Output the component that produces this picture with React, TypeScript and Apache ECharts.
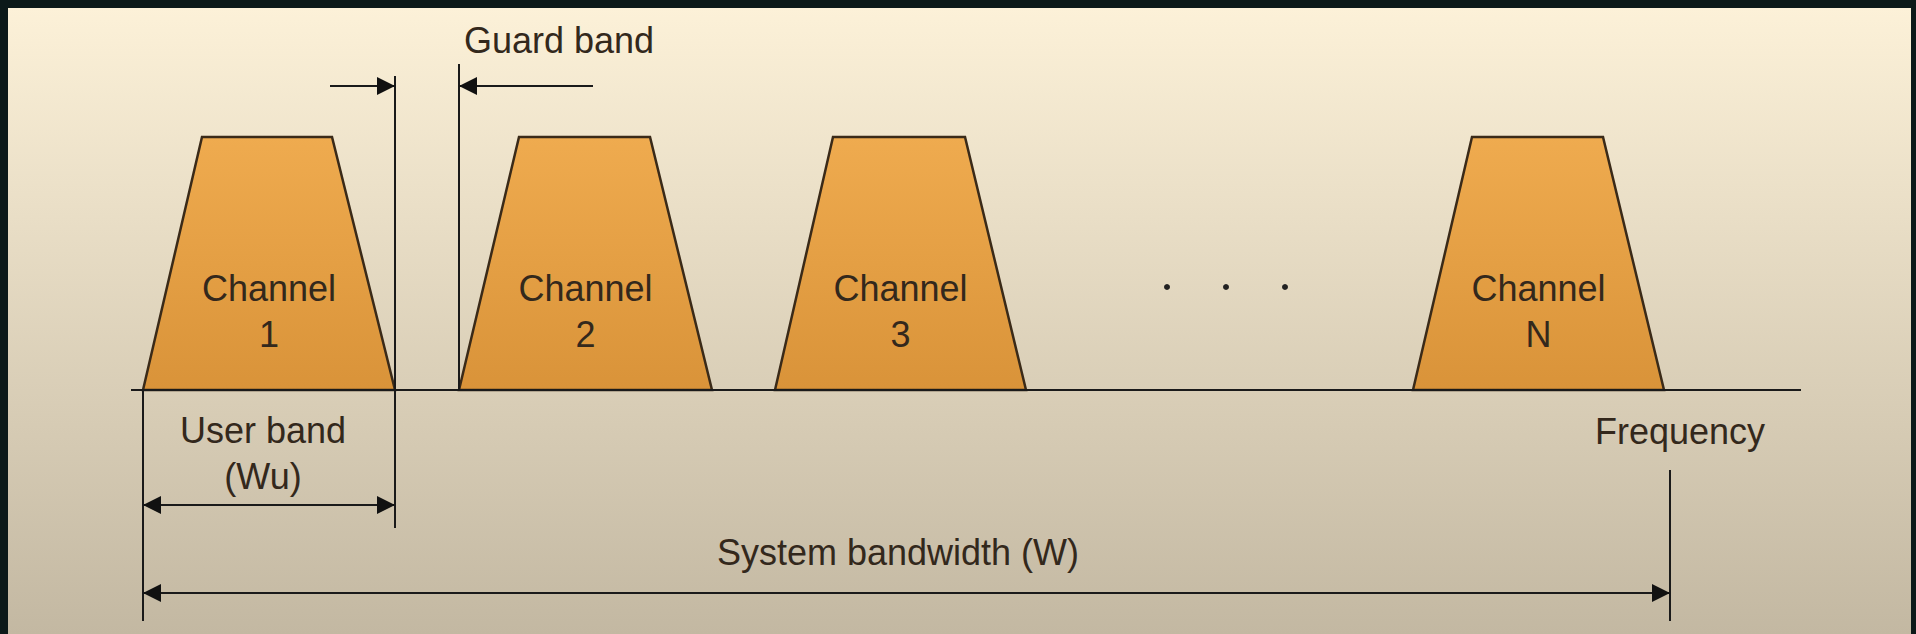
import { useEffect, useRef } from 'react'
import * as echarts from 'echarts'

// diagram units: x = frequency position, y = height row (axis inverted)
const channelNames = ['Channel\n1', 'Channel\n2', 'Channel\n3', 'Channel\nN']
const channelBottomLeft = [143, 459, 775, 1413]
const channelBottomRight = [395, 712, 1026, 1664]
const channelTopLeft = [202, 519, 833, 1472]
const channelTopRight = [332, 650, 965, 1603]
const baseY = 390
const topY = 137
const axisStart = 131
const axisEnd = 1801
const dotsX = [1167, 1226, 1285]
const dotsY = 287

const ink = '#33281c'

export default function App() {
  const ref = useRef<HTMLDivElement>(null)

  useEffect(() => {
    document.body.style.margin = '0'
    if (!ref.current) return
    const chart = echarts.init(ref.current, null, { renderer: 'svg' })

    const arrowHead = (api: any, x: number, y: number, dir: number) => {
      const p = api.coord([x, y])
      return {
        type: 'polygon',
        shape: { points: [p, [p[0] - dir * 18, p[1] - 9], [p[0] - dir * 18, p[1] + 9]] },
        style: { fill: '#111' },
      }
    }
    const seg = (api: any, x1: number, y1: number, x2: number, y2: number) => {
      const a = api.coord([x1, y1])
      const b = api.coord([x2, y2])
      return { type: 'line', shape: { x1: a[0], y1: a[1], x2: b[0], y2: b[1] }, style: { stroke: '#1a1a1a', lineWidth: 2 } }
    }
    const txt = (api: any, x: number, y: number, s: string, align = 'center') => {
      const p = api.coord([x, y])
      return {
        type: 'text',
        x: p[0],
        y: p[1],
        style: {
          text: s,
          fill: ink,
          font: '36px "Liberation Sans", Arial, sans-serif',
          align,
          verticalAlign: 'middle',
          lineHeight: 46,
        },
      }
    }

    const option: echarts.EChartsOption = {
      animation: false,
      backgroundColor: '#0c1919',
      grid: { left: 0, right: 0, top: 0, bottom: 0 },
      xAxis: { type: 'value', min: 0, max: 1916, show: false },
      yAxis: { type: 'value', min: 0, max: 634, inverse: true, show: false },
      series: [
        {
          type: 'custom',
          data: [[0, 0]],
          renderItem: (_params: any, api: any) => {
            const children: any[] = []
            const tl = api.coord([8, 8])
            const br = api.coord([1911, 634])
            children.push({
              type: 'rect',
              shape: { x: tl[0], y: tl[1], width: br[0] - tl[0], height: br[1] - tl[1] },
              style: {
                fill: new echarts.graphic.LinearGradient(0, 0, 0, 1, [
                  { offset: 0, color: '#fcf1d8' },
                  { offset: 1, color: '#c3b8a2' },
                ]),
              },
            })
            channelNames.forEach((name, i) => {
              children.push({
                type: 'polygon',
                shape: {
                  points: [
                    api.coord([channelBottomLeft[i], baseY]),
                    api.coord([channelTopLeft[i], topY]),
                    api.coord([channelTopRight[i], topY]),
                    api.coord([channelBottomRight[i], baseY]),
                  ],
                },
                style: {
                  fill: new echarts.graphic.LinearGradient(0, 0, 0, 1, [
                    { offset: 0, color: '#efab4f' },
                    { offset: 1, color: '#d99339' },
                  ]),
                  stroke: '#3a2a18',
                  lineWidth: 2.5,
                },
              })
              const cx = (channelBottomLeft[i] + channelBottomRight[i]) / 2
              children.push(txt(api, cx, 311, name))
            })
            dotsX.forEach((x) => {
              const p = api.coord([x, dotsY])
              children.push({ type: 'circle', shape: { cx: p[0], cy: p[1], r: 3 }, style: { fill: '#222' } })
            })
            // frequency axis
            children.push(seg(api, axisStart, baseY, axisEnd, baseY))
            // guard band
            children.push(seg(api, 395, 76, 395, 528))
            children.push(seg(api, 330, 86, 395, 86))
            children.push(arrowHead(api, 395, 86, 1))
            children.push(seg(api, 459, 64, 459, baseY))
            children.push(seg(api, 459, 86, 593, 86))
            children.push(arrowHead(api, 459, 86, -1))
            children.push(txt(api, 464, 40, 'Guard band', 'left'))
            // user band
            children.push(seg(api, 143, baseY, 143, 621))
            children.push(seg(api, 143, 505, 395, 505))
            children.push(arrowHead(api, 143, 505, -1))
            children.push(arrowHead(api, 395, 505, 1))
            children.push(txt(api, 263, 453, 'User band\n(Wu)'))
            // system bandwidth
            children.push(seg(api, 1670, 470, 1670, 621))
            children.push(seg(api, 143, 593, 1670, 593))
            children.push(arrowHead(api, 143, 593, -1))
            children.push(arrowHead(api, 1670, 593, 1))
            children.push(txt(api, 898, 552, 'System bandwidth (W)'))
            children.push(txt(api, 1595, 431, 'Frequency', 'left'))
            return { type: 'group', children }
          },
        },
      ],
    }
    chart.setOption(option)
    return () => chart.dispose()
  }, [])

  return <div ref={ref} style={{ width: 1916, height: 634 }} />
}
